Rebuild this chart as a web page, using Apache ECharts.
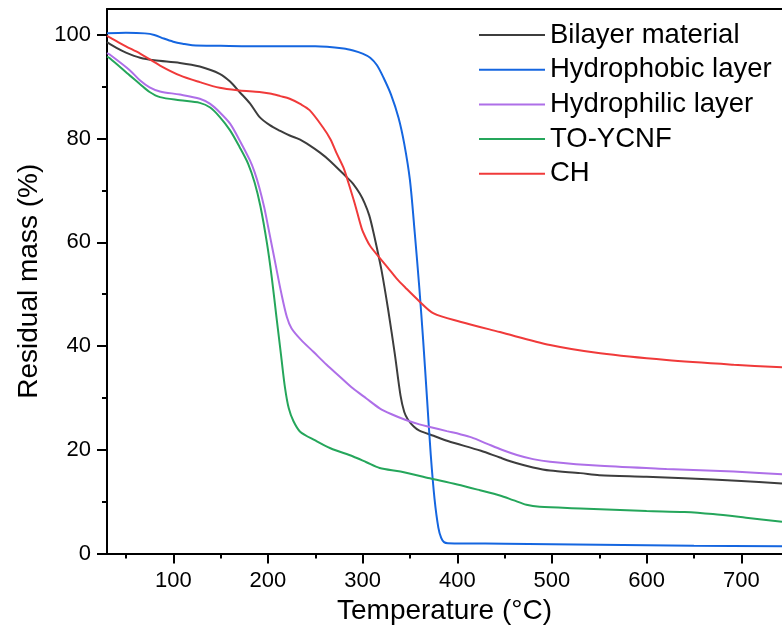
<!DOCTYPE html>
<html>
<head>
<meta charset="utf-8">
<script src="https://cdn.jsdelivr.net/npm/echarts@6/dist/echarts.min.js"></script>
<style>html,body{margin:0;padding:0;background:#fff}#c{width:782px;height:641px}</style>
</head>
<body>
<div id="c"></div>
<script>
// ---- data ----
const xMajorTicks = [100, 200, 300, 400, 500, 600, 700];
const xMinorTicks = [50, 150, 250, 350, 450, 550, 650];
const yMajorTicks = [0, 20, 40, 60, 80, 100];
const yMinorTicks = [10, 30, 50, 70, 90];

const seriesNames = ["Bilayer material", "Hydrophobic layer", "Hydrophilic layer", "TO-YCNF", "CH"];

const bilayerT = [30,40,50,65,80,107,128,149,160,170,181,191,202,213,223,234,244,255,265,283,290,297,302,307,311,315,320,327,334,340,344,348,354,360,375,390,425,445,463,480,498,530,550,600,640,700,743];
const bilayerV = [98.6,97.5,96.6,95.6,95.1,94.6,93.9,92.5,91.0,89.0,86.8,84.2,82.6,81.5,80.6,79.8,78.7,77.3,75.8,72.6,71.3,69.4,67.6,65.2,62.3,59.0,54.6,47.0,38.5,30.5,27.3,25.8,24.5,23.7,22.7,21.7,19.8,18.5,17.4,16.6,16.0,15.5,15.1,14.8,14.5,14.0,13.5];

const hydrophobicT = [30,50,70,80,90,100,110,120,150,200,250,280,290,300,308,315,322,330,338,344,350,355,360,364,368,372,376,380,383,386,390,450,550,650,743];
const hydrophobicV = [100.3,100.4,100.3,100.0,99.3,98.7,98.3,98.0,97.9,97.8,97.8,97.4,97.0,96.4,95.6,94.2,91.8,88.5,84.0,79.0,72.0,62.0,51.0,41.0,30.0,19.0,10.5,5.0,3.0,2.2,2.0,1.9,1.7,1.5,1.4];

const hydrophilicT = [30,33,54,65,75,86,107,128,139,149,160,170,181,186,191,196,200,204,208,214,220,225,235,248,262,276,290,304,318,330,345,360,371,389,403,415,431,447,463,480,498,551,621,692,743];
const hydrophilicV = [96.5,96.2,93.2,91.2,89.9,89.1,88.5,87.7,86.7,85.1,82.9,79.7,75.8,73.5,70.5,66.8,63.2,59.5,55.8,50.3,45.6,43.4,41.2,38.9,36.4,34.1,31.8,29.9,28.0,26.9,25.8,24.9,24.4,23.6,23.0,22.4,21.2,20.0,19.0,18.2,17.7,16.9,16.3,15.8,15.3];

const toycnfT = [30,33,54,65,75,86,107,128,139,149,160,170,179,186,192,199,204,209,214,218,222,227,234,250,266,290,304,318,340,371,400,424,445,459,473,487,530,600,640,670,705,743];
const toycnfV = [95.8,95.5,92.2,90.5,89.0,88.0,87.4,86.9,86.0,84.2,81.6,78.4,75.2,71.5,67.0,59.8,53.3,45.6,38.0,32.0,28.0,25.5,23.5,21.8,20.3,18.7,17.6,16.5,15.8,14.5,13.3,12.2,11.2,10.3,9.4,9.0,8.7,8.2,8.0,7.6,6.9,6.1];

const chT = [30,40,50,65,86,107,128,149,170,191,202,213,223,234,244,258,266,273,280,285,292,299,304,308,318,328,336,345,359,375,403,445,498,551,621,692,743];
const chV = [99.8,98.8,97.8,96.4,94.1,92.2,90.9,89.8,89.3,89.0,88.7,88.2,87.7,86.7,85.5,82.2,79.9,77.0,74.3,71.5,67.3,62.7,60.6,59.3,57.0,54.8,53.0,51.3,48.8,46.3,44.7,42.7,40.2,38.6,37.3,36.4,35.9];

const colors = ["#3d3d3d", "#1566e0", "#ae6fe8", "#25a65b", "#f03a3a"];
const allT = [bilayerT, hydrophobicT, hydrophilicT, toycnfT, chT];
const allV = [bilayerV, hydrophobicV, hydrophilicV, toycnfV, chV];

const FONT = "Liberation Sans, Arial, sans-serif";
const X_MIN = 30, X_MAX = 743, Y_MIN = 0, Y_MAX = 105;

const zip = (a, b) => a.map((t, i) => [t, b[i]]);

const chart = echarts.init(document.getElementById('c'), null, {renderer: 'canvas'});
const axisLineStyle = {color: '#000', width: 2};

chart.setOption({
  animation: false,
  backgroundColor: '#fff',
  textStyle: {fontFamily: FONT},
  grid: {left: 107, right: 0, top: 9, bottom: 87.5, containLabel: false},
  legend: {
    orient: 'vertical', left: 478, top: 20, padding: 0, itemWidth: 66, itemHeight: 14, itemGap: 4.7,
    itemStyle: {opacity: 0},
    textStyle: {fontFamily: FONT, fontSize: 27.5, color: '#000', lineHeight: 30},
    data: seriesNames
  },
  xAxis: [
    {type: 'value', min: X_MIN, max: X_MAX, position: 'bottom',
     name: 'Temperature (°C)', nameLocation: 'middle', nameGap: 44,
     nameTextStyle: {fontFamily: FONT, fontSize: 28, color: '#000'},
     axisLine: {show: true, lineStyle: axisLineStyle},
     axisTick: {show: true, inside: false, length: 10, lineStyle: axisLineStyle, customValues: xMajorTicks},
     axisLabel: {show: true, fontFamily: FONT, fontSize: 22, color: '#000', margin: 16, customValues: xMajorTicks},
     splitLine: {show: false}},
    {type: 'value', min: X_MIN, max: X_MAX, position: 'bottom', gridIndex: 0,
     axisLine: {show: false},
     axisTick: {show: true, inside: false, length: 5, lineStyle: axisLineStyle, customValues: xMinorTicks},
     axisLabel: {show: false}, splitLine: {show: false}},
    {type: 'value', min: X_MIN, max: X_MAX, position: 'top', gridIndex: 0,
     axisLine: {show: true, lineStyle: axisLineStyle},
     axisTick: {show: false}, axisLabel: {show: false}, splitLine: {show: false}}
  ],
  yAxis: [
    {type: 'value', min: Y_MIN, max: Y_MAX, position: 'left',
     name: 'Residual mass (%)', nameLocation: 'middle', nameGap: 55,
     nameTextStyle: {fontFamily: FONT, fontSize: 28, color: '#000'},
     axisLine: {show: true, lineStyle: axisLineStyle},
     axisTick: {show: true, inside: false, length: 10, lineStyle: axisLineStyle, customValues: yMajorTicks},
     axisLabel: {show: true, fontFamily: FONT, fontSize: 22, color: '#000', margin: 16, customValues: yMajorTicks},
     splitLine: {show: false}},
    {type: 'value', min: Y_MIN, max: Y_MAX, position: 'left', gridIndex: 0,
     axisLine: {show: false},
     axisTick: {show: true, inside: false, length: 5, lineStyle: axisLineStyle, customValues: yMinorTicks},
     axisLabel: {show: false}, splitLine: {show: false}}
  ],
  series: seriesNames.map((name, i) => ({
    name, type: 'line', xAxisIndex: 0, yAxisIndex: 0,
    data: zip(allT[i], allV[i]),
    symbol: 'none', showSymbol: false,
    smooth: 0.3,
    color: colors[i],
    lineStyle: {color: colors[i], width: 2},
    z: 2 + i
  }))
});
</script>
</body>
</html>
